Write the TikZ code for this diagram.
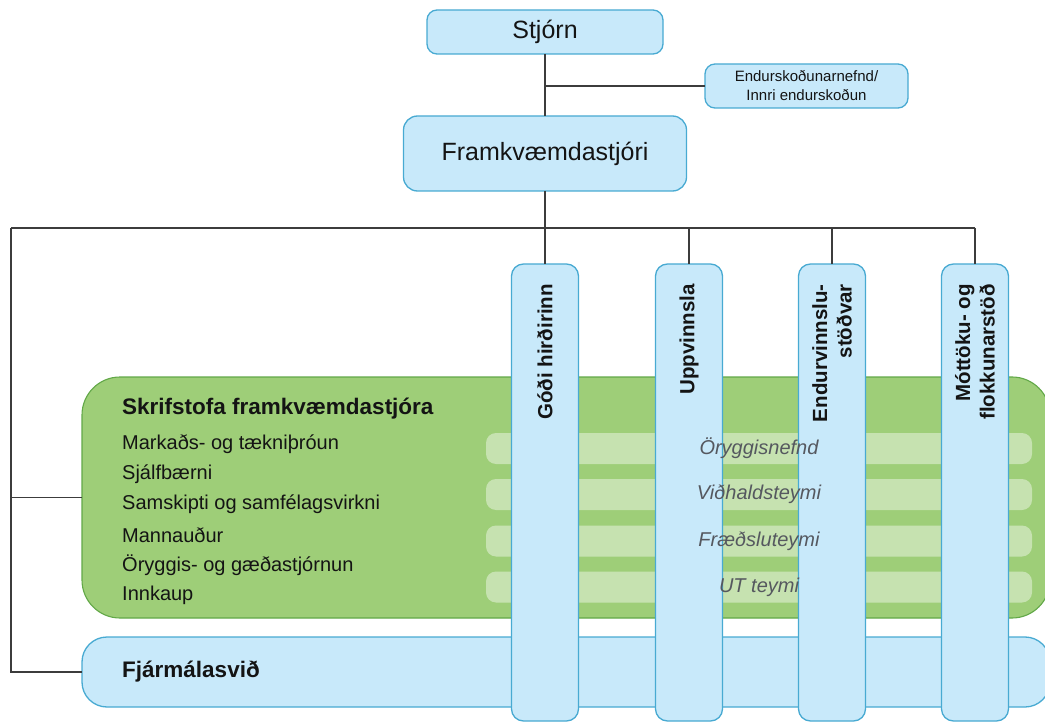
\documentclass[tikz,border=0pt]{standalone}
\usepackage{fontspec}
\setmainfont{Liberation Sans}
\definecolor{bfill}{RGB}{200,233,250}
\definecolor{bline}{RGB}{72,170,210}
\definecolor{gfill}{RGB}{158,206,120}
\definecolor{gline}{RGB}{98,168,72}
\definecolor{conncol}{RGB}{60,60,60}
\definecolor{teamtext}{RGB}{85,88,95}
\definecolor{txt}{RGB}{20,20,20}
\tikzset{
  bluebox/.style={draw=bline, fill=bfill, line width=1.3pt, inner sep=0pt, outer sep=0pt, text=txt},
  greenbox/.style={draw=gline, fill=gfill, line width=1.1pt, inner sep=0pt, outer sep=0pt},
  teamband/.style={fill=white, fill opacity=0.42, draw=none, rounded corners=10pt, minimum width=546, minimum height=31, inner sep=0pt},
  teamlbl/.style={font=\fontsize{20}{24}\selectfont\itshape, text=teamtext, inner sep=0pt},
  listlbl/.style={font=\fontsize{20}{24}\selectfont, text=txt, anchor=west, inner sep=0pt},
  collbl/.style={font=\fontsize{20.5}{24.5}\selectfont\bfseries, text=txt, rotate=90, anchor=east, align=right, inner sep=0pt},
  column/.style={bluebox, rounded corners=12pt, minimum width=67, minimum height=457},
  conn/.style={draw=conncol, line width=1.4pt}
}
\begin{document}
\begin{tikzpicture}[x=1pt,y=-1pt]
\useasboundingbox (0,0) rectangle (1045,722);
\clip (0,0) rectangle (1045,722);
% top boxes
\node[bluebox, rounded corners=10pt, minimum width=236, minimum height=44, font=\fontsize{25}{30}\selectfont] (stjorn) at (545,32) {Stjórn};
\node[bluebox, rounded corners=10pt, minimum width=203, minimum height=44, font=\fontsize{15}{19}\selectfont, align=center] (endur) at (806.5,86) {Endurskoðunarnefnd/\\Innri endurskoðun};
\node[bluebox, rounded corners=14pt, minimum width=283, minimum height=75, font=\fontsize{25}{30}\selectfont] (framk) at (545,153.5) {Framkvæmdastjóri};
% green office box
\node[greenbox, rounded corners=38pt, minimum width=968, minimum height=241] (green) at (566,497.5) {};
\node[teamband] (b1) at (759,448.5) {};
\node[teamband] (b2) at (759,494.5) {};
\node[teamband] (b3) at (759,541) {};
\node[teamband] (b4) at (759,587) {};
% finance box
\node[bluebox, rounded corners=25pt, minimum width=968, minimum height=70] (fjar) at (566,672) {};
% columns
\node[column] (col1) at (545,492.5) {};
\node[column] (col2) at (689,492.5) {};
\node[column] (col3) at (832,492.5) {};
\node[column] (col4) at (975,492.5) {};
% texts in green box
\node[listlbl, font=\fontsize{22.5}{27}\selectfont\bfseries] (head) at (122,409) {Skrifstofa framkvæmdastjóra};
\node[listlbl] (l1) at (122,444) {Markaðs- og tækniþróun};
\node[listlbl] (l2) at (122,474) {Sjálfbærni};
\node[listlbl] (l3) at (122,504.5) {Samskipti og samfélagsvirkni};
\node[listlbl] (l4) at (122,535) {Mannauður};
\node[listlbl] (l5) at (122,565) {Öryggis- og gæðastjórnun};
\node[listlbl] (l6) at (122,595) {Innkaup};
\node[listlbl, font=\fontsize{22.5}{27}\selectfont\bfseries] (fjarlbl) at (122,672) {Fjármálasvið};
% team labels
\node[teamlbl] (t1) at (b1) {Öryggisnefnd};
\node[teamlbl] (t2) at (b2) {Viðhaldsteymi};
\node[teamlbl] (t3) at (b3) {Fræðsluteymi};
\node[teamlbl] (t4) at (b4) {UT teymi};
% column labels
\node[collbl] (c1) at (545,284) {Góði hirðirinn};
\node[collbl] (c2) at (689,284) {Uppvinnsla};
\node[collbl] (c3) at (832,284) {Endurvinnslu-\\stöðvar};
\node[collbl] (c4) at (975,284) {Móttöku- og\\flokkunarstöð};
% connectors
\coordinate (jA) at (545,86);
\coordinate (busL) at (11,228);
\coordinate (busR) at (975,228);
\draw[conn] (stjorn.south) -- (framk.north);
\draw[conn] (jA) -- (endur.west);
\draw[conn] (framk.south) -- (col1.north);
\draw[conn] (busL) -- (busR);
\draw[conn] (col2.north |- busL) -- (col2.north);
\draw[conn] (col3.north |- busL) -- (col3.north);
\draw[conn] (busR) -- (col4.north);
\draw[conn] (busL) |- (fjar.west);
\draw[conn] (busL |- green.west) -- (green.west);
\end{tikzpicture}
\end{document}
